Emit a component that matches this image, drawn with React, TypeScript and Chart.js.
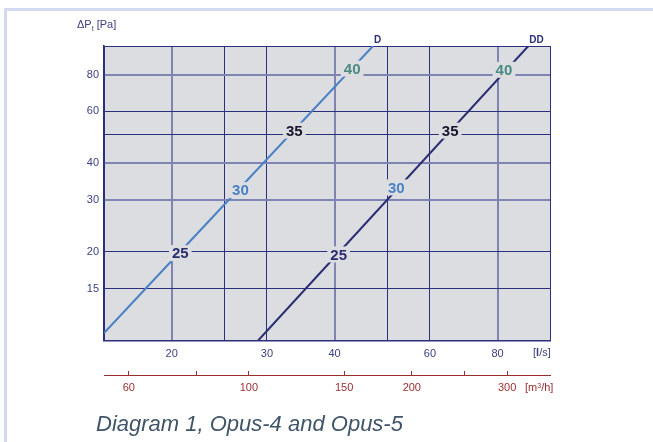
import React, { useEffect, useRef } from 'react';
import { Chart, registerables } from 'chart.js';
Chart.register(...registerables);

// Axis ticks
const flowTicks = [15, 20, 25, 30, 40, 50, 60, 80, 100];
const flowLabels = [20, 30, 40, 60, 80];
const flowLight = [20, 40, 80];
const pressureTicks = [10, 15, 20, 30, 40, 50, 60, 80, 100];
const pressureLabels = [15, 20, 30, 40, 60, 80];
const pressureLight = [30, 40, 80];
const m3hTicks = [60, 80, 100, 150, 200, 250, 300];
const m3hLabels = [60, 100, 150, 200, 300];

// Series (flow l/s, pressure Pa)
const seriesNames = ['D', 'DD'];
const dFlow = [15, 47.1];
const dPressure = [10.6, 100];
const ddFlow = [28.9, 91.2];
const ddPressure = [10, 100];

// Sound level markers along the curves
const soundLevels = ['25', '30', '35', '40'];
const soundColors = ['#2b2e6e', '#4a80c4', '#15152a', '#4a8b83'];
const dLabelFlow = [20.75, 26.8, 33.7, 43.1];
const dLabelPressure = [19.8, 32.4, 51.6, 83.8];
const ddLabelFlow = [40.7, 52, 65.4, 82.2];
const ddLabelPressure = [19.6, 33.1, 51.6, 83];

const NAVY = '#2b2f7c';
const LIGHT = '#8084b2';
const RED = '#9a2e2e';
const PLOT_BG = '#dcdde1';
const FONT = '"Liberation Sans", Arial, sans-serif';

const toPts = (xs: number[], ys: number[]) => xs.map((x, i) => ({ x, y: ys[i] }));

const decorPlugin = {
  id: 'decor',
  beforeDraw(chart: any) {
    const { ctx, chartArea: a } = chart;
    ctx.save();
    ctx.fillStyle = PLOT_BG;
    ctx.fillRect(a.left, a.top, a.right - a.left, a.bottom - a.top);
    ctx.restore();
  },
  afterDatasetsDraw(chart: any) {
    const { ctx } = chart;
    const xs = chart.scales.x;
    const ys = chart.scales.y;
    const x2 = chart.scales.x2;
    ctx.save();
    // sound level labels
    ctx.font = `bold 15px ${FONT}`;
    ctx.textAlign = 'center';
    ctx.textBaseline = 'middle';
    const groups = [
      [dLabelFlow, dLabelPressure],
      [ddLabelFlow, ddLabelPressure],
    ];
    groups.forEach(([fl, pr]) => {
      fl.forEach((f, i) => {
        const px = xs.getPixelForValue(f);
        const py = ys.getPixelForValue(pr[i]);
        const w = ctx.measureText(soundLevels[i]).width + 6;
        ctx.fillStyle = PLOT_BG;
        ctx.fillRect(px - w / 2, py - 8, w, 16);
        ctx.fillStyle = soundColors[i];
        ctx.fillText(soundLevels[i], px, py + 1);
      });
    });
    // series names at line ends
    ctx.font = `bold 10px ${FONT}`;
    ctx.textAlign = 'left';
    ctx.textBaseline = 'alphabetic';
    ctx.fillStyle = NAVY;
    const ends = [
      [dFlow[dFlow.length - 1], dPressure[dPressure.length - 1]],
      [ddFlow[ddFlow.length - 1], ddPressure[ddPressure.length - 1]],
    ];
    ends.forEach(([f, p], i) => {
      const px = xs.getPixelForValue(f);
      const py = ys.getPixelForValue(p);
      ctx.fillText(seriesNames[i], px + 1, py - 3);
    });
    // red m3/h axis line
    ctx.strokeStyle = RED;
    ctx.lineWidth = 1.2;
    ctx.beginPath();
    ctx.moveTo(x2.left, x2.top + 4.5);
    ctx.lineTo(x2.right + 1, x2.top + 4.5);
    ctx.stroke();
    ctx.restore();
  },
};

export default function App() {
  const ref = useRef<HTMLCanvasElement>(null);
  useEffect(() => {
    if (!ref.current) return;
    const chart = new Chart(ref.current, {
      type: 'line',
      data: {
        datasets: [
          {
            label: seriesNames[0],
            data: toPts(dFlow, dPressure),
            borderColor: '#4a80c4',
            borderWidth: 2,
            pointRadius: 0,
            fill: false,
          },
          {
            label: seriesNames[1],
            data: toPts(ddFlow, ddPressure),
            borderColor: '#2a2d72',
            borderWidth: 2,
            pointRadius: 0,
            fill: false,
          },
        ],
      },
      plugins: [decorPlugin],
      options: {
        animation: false,
        responsive: false,
        devicePixelRatio: 1,
        layout: { padding: { left: 0, top: 46, right: 103, bottom: 41 } },
        plugins: { legend: { display: false }, tooltip: { enabled: false }, title: { display: false } },
        scales: {
          x: {
            type: 'logarithmic',
            position: 'bottom',
            weight: 0,
            min: 15,
            max: 100,
            afterBuildTicks: (s: any) => {
              s.ticks = flowTicks.map((v) => ({ value: v }));
            },
            afterFit: (s: any) => {
              s.height = 30.5;
            },
            grid: {
              drawTicks: false,
              color: (c: any) => (c.tick && flowLight.includes(c.tick.value) ? LIGHT : NAVY),
              lineWidth: (c: any) => (c.tick && flowLight.includes(c.tick.value) ? 2 : 1),
            },
            border: { color: NAVY, width: 1.5 },
            ticks: {
              autoSkip: false,
              maxRotation: 0,
              padding: 7,
              color: '#3d4180',
              font: { family: FONT, size: 11 },
              callback: (v: any) => (flowLabels.includes(Number(v)) ? String(v) : ''),
            },
          },
          x2: {
            type: 'logarithmic',
            position: 'bottom',
            weight: 1,
            min: 54,
            max: 360,
            afterBuildTicks: (s: any) => {
              s.ticks = m3hTicks.map((v) => ({ value: v }));
            },
            afterFit: (s: any) => {
              s.height = 30;
            },
            grid: {
              drawOnChartArea: false,
              drawTicks: true,
              tickLength: 4,
              color: RED,
              lineWidth: 1,
            },
            border: { display: false },
            ticks: {
              autoSkip: false,
              maxRotation: 0,
              padding: 6,
              color: RED,
              font: { family: FONT, size: 11 },
              callback: (v: any) => (m3hLabels.includes(Number(v)) ? String(v) : ''),
            },
          },
          y: {
            type: 'logarithmic',
            position: 'left',
            min: 10,
            max: 100,
            afterBuildTicks: (s: any) => {
              s.ticks = pressureTicks.map((v) => ({ value: v }));
            },
            afterFit: (s: any) => {
              s.width = 104;
            },
            grid: {
              drawTicks: false,
              color: (c: any) => (c.tick && pressureLight.includes(c.tick.value) ? LIGHT : NAVY),
              lineWidth: (c: any) => (c.tick && pressureLight.includes(c.tick.value) ? 2 : 1),
            },
            border: { color: NAVY, width: 1.5 },
            ticks: {
              autoSkip: false,
              padding: 5,
              color: '#3d4180',
              font: { family: FONT, size: 11 },
              callback: (v: any) => (pressureLabels.includes(Number(v)) ? String(v) : ''),
            },
          },
        },
      },
    } as any);
    return () => chart.destroy();
  }, []);

  const navyText: React.CSSProperties = {
    position: 'absolute',
    fontFamily: FONT,
    fontSize: 11,
    lineHeight: '14px',
    color: '#3d4180',
    whiteSpace: 'nowrap',
  };

  return (
    <div style={{ position: 'fixed', left: 0, top: 0, width: 653, height: 442, background: '#fff', overflow: 'hidden' }}>
      <div
        style={{
          position: 'absolute',
          left: 4,
          top: 8,
          right: 0,
          bottom: 0,
          borderTop: '3px solid #d3daef',
          borderLeft: '3px solid #d3daef',
        }}
      />
      <canvas ref={ref} width={653} height={442} style={{ position: 'absolute', left: 0, top: 0, width: 653, height: 442 }} />
      <div style={{ ...navyText, left: 77, top: 17 }}>
        ΔP<span style={{ fontSize: 7, position: 'relative', top: 3 }}>t</span> [Pa]
      </div>
      <div style={{ ...navyText, left: 533, top: 345 }}>
        [<b>l</b>/s]
      </div>
      <div style={{ ...navyText, left: 525, top: 380, color: RED }}>
        [m<span style={{ fontSize: 7, position: 'relative', top: -3 }}>3</span>/h]
      </div>
      <div
        style={{
          position: 'absolute',
          left: 96,
          top: 411,
          fontFamily: FONT,
          fontStyle: 'italic',
          fontSize: 22,
          lineHeight: '26px',
          color: '#3f5467',
          whiteSpace: 'nowrap',
        }}
      >
        Diagram 1, Opus-4 and Opus-5
      </div>
    </div>
  );
}
